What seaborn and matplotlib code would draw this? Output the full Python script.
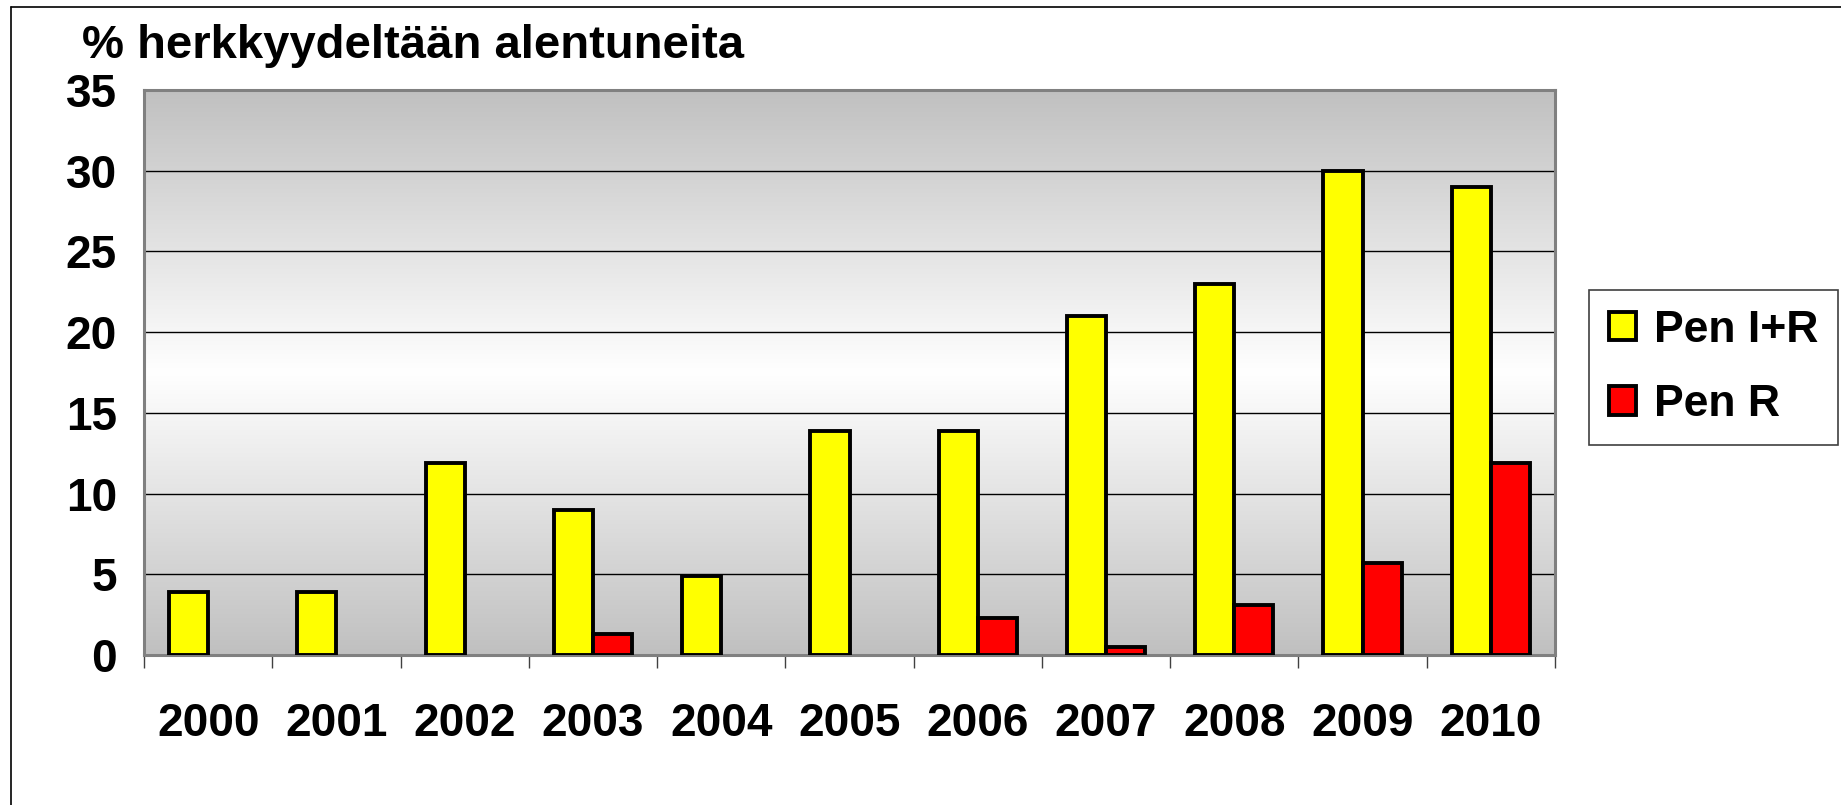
import numpy as np
import pandas as pd
import matplotlib
matplotlib.use('Agg')
import matplotlib.pyplot as plt
from matplotlib.lines import Line2D
from matplotlib.colors import LinearSegmentedColormap
import seaborn as sns

# data
years = ['2000', '2001', '2002', '2003', '2004', '2005', '2006', '2007', '2008', '2009', '2010']
pen_ir = [3.9, 3.9, 11.9, 9.0, 4.9, 13.9, 13.9, 21.0, 23.0, 30.0, 29.0]
pen_r = [None, None, None, 1.3, None, None, 2.3, 0.5, 3.1, 5.7, 11.9]
series = ['Pen I+R', 'Pen R']
colors = ['#FFFF00', '#FF0000']

df = pd.DataFrame({
    'Year': years * 2,
    'Value': pen_ir + pen_r,
    'Series': [series[0]] * len(years) + [series[1]] * len(years),
}).dropna()

sns.set_theme(style='white')
plt.rcParams['font.family'] = ['Liberation Sans', 'DejaVu Sans']
plt.rcParams['font.weight'] = 'bold'
plt.rcParams['text.color'] = 'black'
plt.rcParams['xtick.labelcolor'] = 'black'
plt.rcParams['ytick.labelcolor'] = 'black'

W, H = 1841, 805
fig = plt.figure(figsize=(W / 100, H / 100), dpi=100)
fig.patch.set_facecolor('white')

# plot area in pixels
left, right, top, bottom = 144, 1555, 90, 655
ax = fig.add_axes([left / W, 1 - bottom / H, (right - left) / W, (bottom - top) / H])

# gray-white-gray background like the Excel fill
cmap = LinearSegmentedColormap.from_list('bg', ['#c0c0c0', '#ffffff', '#c0c0c0'])
grad = np.linspace(0, 1, 256).reshape(-1, 1)
ax.imshow(grad, extent=[0, 1, 0, 1], transform=ax.transAxes, aspect='auto',
          cmap=cmap, zorder=0, interpolation='bicubic')
ax.patch.set_alpha(0)

sns.barplot(data=df, x='Year', y='Value', hue='Series', order=years,
            hue_order=series, palette=colors, width=0.61, dodge=True,
            edgecolor='black', linewidth=2.8, saturation=1, ax=ax, zorder=3)

ax.set_xlim(-0.5, 10.5)
ax.set_ylim(0, 35)
ax.set_yticks(np.arange(0, 36, 5))
ax.yaxis.grid(True, color='black', linewidth=1.0)
for gl in ax.get_ygridlines():
    gl.set_zorder(1)
ax.set_xlabel('')
ax.set_ylabel('')

ax.tick_params(axis='y', which='major', length=9.5, width=1, color='#404040',
               pad=10, labelsize=33, labelcolor='black')
ax.tick_params(axis='x', which='major', length=0, pad=34, labelsize=33, labelcolor='black')
ax.set_xticks(np.arange(-0.5, 11, 1), minor=True)
ax.tick_params(axis='x', which='minor', length=9.5, width=1, color='#404040', bottom=True)
for lab in ax.get_xticklabels() + ax.get_yticklabels():
    lab.set_fontweight('bold')

for sp in ax.spines.values():
    sp.set_visible(True)
    sp.set_color('#808080')
    sp.set_linewidth(2.2)

handles, labels = ax.get_legend_handles_labels()
leg = ax.legend(handles, labels, loc='center',
                bbox_to_anchor=((1593 + 1834) / 2 / W, 1 - (288 + 447) / 2 / H),
                bbox_transform=fig.transFigure, frameon=True, fancybox=False,
                edgecolor='#404040', framealpha=1,
                prop={'size': 32, 'weight': 'bold'},
                handlelength=0.6, handleheight=0.6, handletextpad=0.4,
                labelspacing=0.75, borderpad=0.45, borderaxespad=0)
leg.get_frame().set_linewidth(1.2)
for t in leg.get_texts():
    t.set_color('black')

fig.text(82 / W, 1 - 58 / H, '% herkkyydeltään alentuneita', fontsize=34,
         fontweight='bold', ha='left', va='baseline', color='black')

# outer chart frame (left and top visible)
fig.add_artist(Line2D([11 / W, 11 / W], [0, 1 - 7 / H], color='black', linewidth=1.2))
fig.add_artist(Line2D([11 / W, 1], [1 - 7 / H, 1 - 7 / H], color='black', linewidth=1.2))

fig.savefig('out.png', dpi=100)
